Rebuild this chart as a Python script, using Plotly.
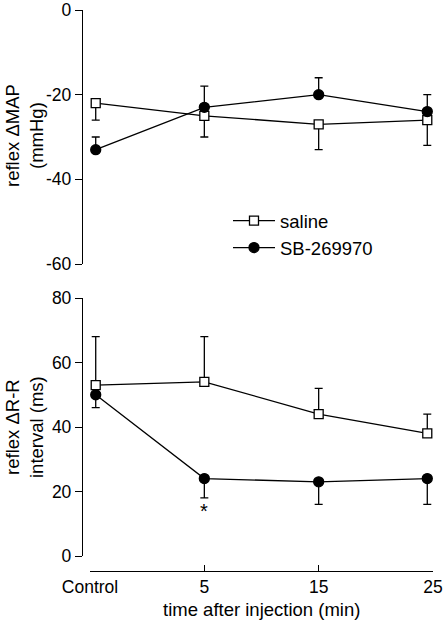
import plotly.graph_objects as go

# x positions (numeric axis; Control plotted near -5, 25 slightly inside)
x_pos = [-4.5, 5, 15, 24.5]
tick_vals = [-5, 5, 15, 25]
tick_text = ["Control", "5", "15", "25"]

# top panel: reflex ΔMAP (mmHg)
map_ticks = [0, -20, -40, -60]
map_saline = [-22, -25, -27, -26]
map_saline_err_down = [4, 5, 6, 6]
map_sb = [-33, -23, -20, -24]
map_sb_err_up = [3, 5, 4, 4]

# bottom panel: reflex ΔR-R interval (ms)
rr_ticks = [0, 20, 40, 60, 80]
rr_saline = [53, 54, 44, 38]
rr_saline_err_up = [15, 14, 8, 6]
rr_sb = [50, 24, 23, 24]
rr_sb_err_down = [4, 6, 7, 8]

FONT = "Liberation Sans, Arial, sans-serif"
LW = 1.3

fig = go.Figure()

def add(x, y, up, down, symbol, fill, name, yax, show):
    fig.add_trace(go.Scatter(
        x=x, y=y, mode="lines+markers", name=name, showlegend=show,
        xaxis="x", yaxis=yax,
        line=dict(color="black", width=LW),
        marker=dict(symbol=symbol, size=9 if symbol == "square" else 10,
                    color=fill, line=dict(color="black", width=LW)),
        error_y=dict(type="data", symmetric=False, array=up, arrayminus=down,
                     color="black", thickness=LW, width=4),
    ))

zeros = [0, 0, 0, 0]
add(x_pos, map_saline, zeros, map_saline_err_down, "square", "white", "saline", "y2", True)
add(x_pos, map_sb, map_sb_err_up, zeros, "circle", "black", "SB-269970", "y2", True)
add(x_pos, rr_sb, zeros, rr_sb_err_down, "circle", "black", "SB-269970", "y", False)
add(x_pos, rr_saline, rr_saline_err_up, zeros, "square", "white", "saline", "y", False)

W, H = 443, 620
ml, mr, mt, mb = 82, 10, 10, 49
ph = H - mt - mb
pw = W - ml - mr

def fy(py):
    return (H - mb - py) / ph

def fx(px):
    return (px - ml) / pw

axcommon = dict(showgrid=False, zeroline=False, showline=True, linecolor="black",
                linewidth=LW, ticks="outside", ticklen=7, tickwidth=LW, tickcolor="black",
                automargin=False, ticklabeloverflow="allow",
                tickfont=dict(size=17.5, color="black", family=FONT))

fig.update_layout(
    width=W, height=H,
    margin=dict(l=ml, r=mr, t=mt, b=mb),
    plot_bgcolor="white", paper_bgcolor="white",
    font=dict(family=FONT, color="black"),
    xaxis=dict(showgrid=False, zeroline=False, showline=True, linecolor="black",
               linewidth=LW, ticks="inside", ticklen=6, tickwidth=LW, tickcolor="black",
               range=[-5, 25], domain=[fx(90), 1], anchor="free", position=0,
               automargin=False, ticklabeloverflow="allow",
               tickvals=tick_vals, ticktext=tick_text,
               tickfont=dict(size=17.5, color="black", family=FONT)),
    yaxis=dict(range=[0, 80], tickvals=rr_ticks, ticktext=[str(v) for v in rr_ticks],
               domain=[fy(556), fy(298)], anchor="free", position=0, **axcommon),
    yaxis2=dict(range=[-60, 0], tickvals=map_ticks, ticktext=[str(v) for v in map_ticks],
                domain=[fy(264), fy(10)], anchor="free", position=0, **axcommon),
    legend=dict(x=fx(228), y=fy(202), xanchor="left", yanchor="top",
                itemwidth=42,
                font=dict(size=18.5, color="black", family=FONT),
                bgcolor="rgba(0,0,0,0)", tracegroupgap=0),
    showlegend=True,
)

fig.add_annotation(x=5, y=14, xref="x", yref="y", text="*", showarrow=False,
                   font=dict(size=20, color="black", family=FONT))

fig.add_annotation(x=fx(261), y=fy(609), xref="paper", yref="paper",
                   text="time after injection (min)", showarrow=False,
                   xanchor="center", yanchor="middle",
                   font=dict(size=18.5, color="black", family=FONT))

def ytitle(text, py):
    fig.add_annotation(x=0, y=fy(py), xref="paper", yref="paper", text=text,
                       textangle=-90, showarrow=False, xanchor="center", yanchor="middle",
                       xshift=24 - ml, align="center",
                       font=dict(size=18.5, color="black", family=FONT))

ytitle("reflex ΔMAP<br>(mmHg)", 136)
ytitle("reflex ΔR-R<br>interval (ms)", 427)

fig.write_html("out.html", config={"displayModeBar": False},
               post_script="document.body.style.margin='0';document.body.style.overflow='hidden';")
